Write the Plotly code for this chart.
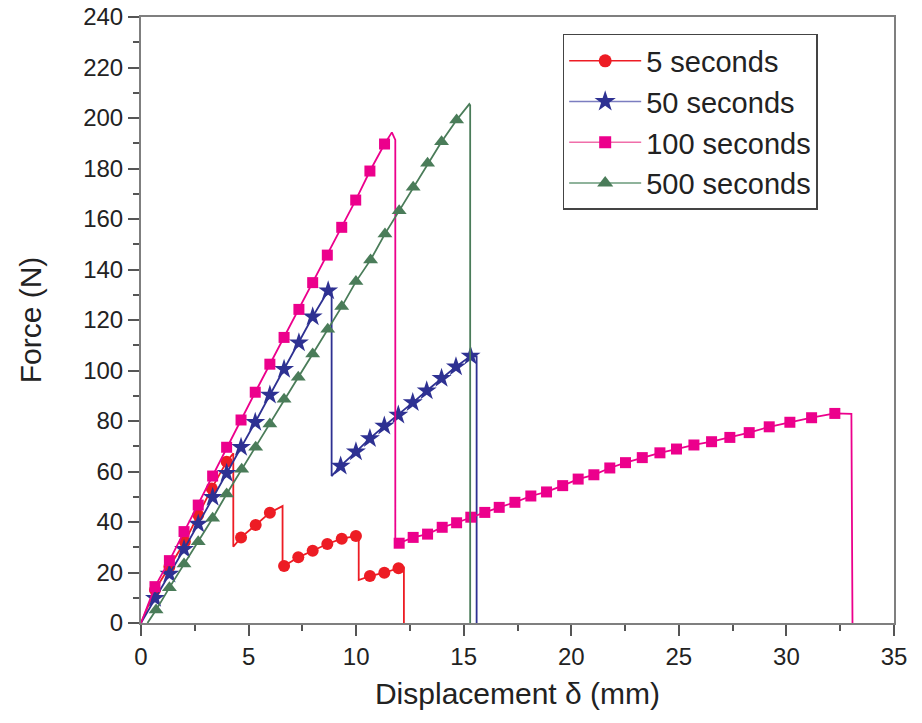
import plotly.graph_objects as go

# ---------------- data ----------------
# 5 seconds: full curve path (line) and marker points
x5_line = [0, 0.65, 1.32, 2.04, 2.66, 3.29, 3.98, 4.29, 4.29, 4.65, 5.33, 5.99, 6.58, 6.58,
           6.65, 7.31, 7.98, 8.66, 9.33, 9.99, 10.12, 10.12, 10.64, 11.31, 11.97, 12.22, 12.22]
y5_line = [0, 13.1, 22.3, 32.2, 42.8, 53.3, 63.9, 67.2, 30.2, 33.9, 38.8, 43.7, 46.3, 22.0,
           22.6, 26.0, 28.6, 31.3, 33.4, 34.5, 34.6, 17.0, 18.6, 19.9, 21.7, 22.0, 0]
x5_mk = [0.65, 1.32, 2.04, 2.66, 3.29, 3.98, 4.65, 5.33, 5.99, 6.65, 7.31, 7.98, 8.66, 9.33, 9.99,
         10.64, 11.31, 11.97]
y5_mk = [13.1, 22.3, 32.2, 42.8, 53.3, 63.9, 33.9, 38.8, 43.7, 22.6, 26.0, 28.6, 31.3, 33.4, 34.5,
         18.6, 19.9, 21.7]

# 50 seconds
x50_mk = [0.65, 1.32, 2.00, 2.66, 3.33, 3.98, 4.65, 5.31, 5.99, 6.65, 7.34, 7.98, 8.70,
          9.28, 9.99, 10.64, 11.31, 11.96, 12.63, 13.28, 13.97, 14.64, 15.32]
y50_mk = [9.8, 19.4, 29.2, 39.2, 49.8, 59.3, 69.6, 79.5, 90.3, 100.5, 111.0, 121.3, 131.6,
          62.2, 67.8, 73.1, 78.0, 82.4, 87.3, 92.0, 96.9, 101.5, 105.7]
x50_line = [0] + x50_mk[:13] + [8.86, 8.86] + x50_mk[13:] + [15.60, 15.60]
y50_line = [0] + y50_mk[:13] + [132.3, 58.2] + y50_mk[13:] + [105.6, 0]

# 100 seconds
x100_mk = [0.65, 1.32, 2.00, 2.66, 3.33, 3.98, 4.65, 5.31, 5.99, 6.65, 7.34, 7.98, 8.66, 9.33,
           9.98, 10.64, 11.32,
           12.00, 12.65, 13.32, 14.00, 14.67, 15.33, 15.98, 16.65, 17.38, 18.12, 18.85, 19.60,
           20.32, 21.05, 21.79, 22.52, 23.30, 24.12, 24.89, 25.70, 26.52, 27.37, 28.27, 29.20,
           30.16, 31.17, 32.25]
y100_mk = [14.4, 24.7, 36.2, 46.7, 58.2, 69.6, 80.4, 91.4, 102.5, 113.1, 124.2, 134.8, 145.7,
           156.7, 167.5, 179.0, 189.7,
           31.6, 33.9, 35.2, 37.9, 39.7, 41.9, 43.8, 45.8, 47.8, 50.3, 51.9, 54.4,
           57.0, 58.7, 61.4, 63.5, 65.5, 67.4, 68.9, 70.5, 71.8, 73.5, 75.4, 77.7,
           79.5, 81.3, 83.0]
x100_line = [0] + x100_mk[:17] + [11.66, 11.82, 11.82] + x100_mk[17:] + [33.02, 33.07]
y100_line = [0] + y100_mk[:17] + [194.3, 191.3, 31.0] + y100_mk[17:] + [82.8, 0]

# 500 seconds
x500_mk = [0.70, 1.32, 2.00, 2.66, 3.33, 3.98, 4.68, 5.33, 5.99, 6.65, 7.31, 7.98, 8.68, 9.33,
           9.99, 10.67, 11.34, 12.00, 12.65, 13.32, 13.97, 14.67]
y500_mk = [5.1, 14.0, 23.4, 32.2, 41.5, 51.1, 60.9, 69.6, 78.8, 88.6, 97.3, 106.5, 116.3, 125.3,
           135.2, 143.8, 154.1, 163.3, 172.6, 182.1, 190.6, 199.2]
x500_line = [0.30] + x500_mk + [15.26, 15.30, 15.30]
y500_line = [0] + y500_mk + [205.5, 205.0, 0]

series_names = ["5 seconds", "50 seconds", "100 seconds", "500 seconds"]
x_ticks = [0, 5, 10, 15, 20, 25, 30, 35]
y_ticks = [0, 20, 40, 60, 80, 100, 120, 140, 160, 180, 200, 220, 240]

# ---------------- styles ----------------
styles = [
    dict(line="#ed1c24", leg_line="#ed1c24", mk="#ed1c24", symbol="circle", size=12, lw=1.8),
    dict(line="#2e3192", leg_line="#7b7dc0", mk="#2e3192", symbol="star", size=15, lw=1.8),
    dict(line="#ec008c", leg_line="#f06eaa", mk="#ec008c", symbol="square", size=11, lw=1.8),
    dict(line="#4a7c59", leg_line="#6a9a7a", mk="#4a7c59", symbol="triangle-up", size=13, lw=1.8),
]
lines = [(x5_line, y5_line), (x50_line, y50_line), (x100_line, y100_line), (x500_line, y500_line)]
marks = [(x5_mk, y5_mk), (x50_mk, y50_mk), (x100_mk, y100_mk), (x500_mk, y500_mk)]

fig = go.Figure()
for name, st, (lx, ly), (mx, my) in zip(series_names, styles, lines, marks):
    fig.add_trace(go.Scatter(x=lx, y=ly, mode="lines", showlegend=False,
                             line=dict(color=st["line"], width=st["lw"]), hoverinfo="skip"))
    fig.add_trace(go.Scatter(x=mx, y=my, mode="markers", showlegend=False,
                             marker=dict(color=st["mk"], symbol=st["symbol"], size=st["size"],
                                         line=dict(width=0))))
# legend entries
for name, st in zip(series_names, styles):
    fig.add_trace(go.Scatter(x=[None], y=[None], mode="lines+markers", name=name,
                             line=dict(color=st["leg_line"], width=1.5),
                             marker=dict(color=st["mk"], symbol=st["symbol"], size=st["size"] + 1)))

axis_common = dict(
    showgrid=False, zeroline=False, showline=True, mirror=True, automargin=False,
    linecolor="#7f7f7f", linewidth=2, ticklabeloverflow="allow",
    ticks="outside", ticklen=11, tickwidth=1.5, tickcolor="#555555",
    tickfont=dict(family="Liberation Sans, Arial, sans-serif", size=24, color="#222222"),
)

fig.update_layout(
    width=922, height=723,
    margin=dict(l=141, r=28, t=17, b=100),
    paper_bgcolor="white", plot_bgcolor="white",
    font=dict(family="Liberation Sans, Arial, sans-serif", color="#222222"),
    xaxis=dict(range=[0, 35], tickvals=x_ticks, ticktext=[str(v) for v in x_ticks],
               minor=dict(ticks="outside", ticklen=6, dtick=2.5, tickcolor="#555555", tickwidth=1.5),
               title=dict(text="Displacement δ (mm)", font=dict(size=30), standoff=14),
               **axis_common),
    yaxis=dict(range=[0, 240], tickvals=y_ticks, ticktext=[str(v) for v in y_ticks],
               minor=dict(ticks="outside", ticklen=6, dtick=10, tickcolor="#555555", tickwidth=1.5),
               title=dict(text="Force (N)", font=dict(size=30), standoff=33),
               **axis_common),
    legend=dict(x=0.56, y=0.972, xanchor="left", yanchor="top",
                bgcolor="white", bordercolor="#444444", borderwidth=1.5,
                font=dict(size=29, color="#222222"), itemwidth=72,
                tracegroupgap=0),
    showlegend=True,
)

fig.write_html("out.html",
               config={"displayModeBar": False},
               post_script="document.body.style.margin='0px';document.body.style.overflow='hidden';")
